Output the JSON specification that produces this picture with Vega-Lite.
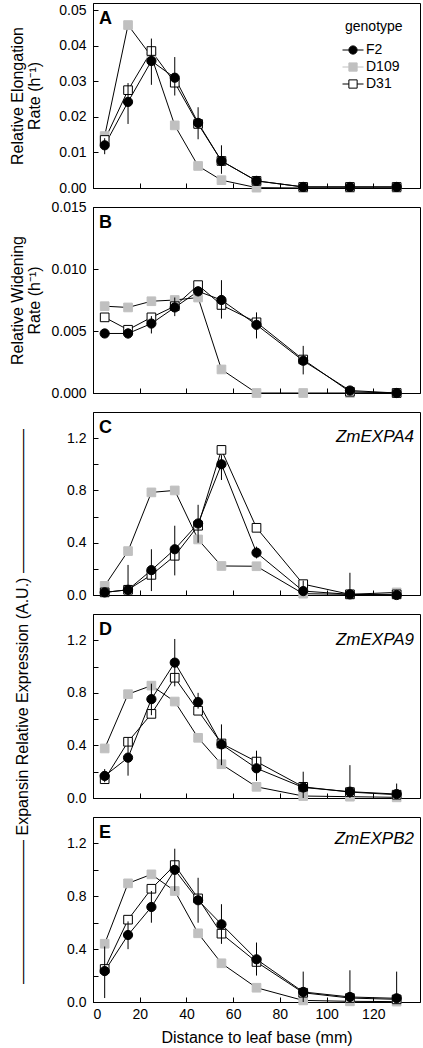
{
  "$schema": "https://vega.github.io/schema/vega-lite/v6.json",
  "padding": {"left": 9, "top": 2, "right": 4, "bottom": 2},
  "bounds": "flush",
  "spacing": 19,
  "config": {
    "font": "Liberation Sans",
    "view": {"stroke": "black", "strokeWidth": 1},
    "axis": {"domainColor": "black", "tickColor": "black", "labelColor": "black", "titleColor": "black", "labelFont": "Liberation Sans", "titleFont": "Liberation Sans", "labelFontSize": 14, "titleFontSize": 16, "titleFontWeight": "normal", "grid": false, "tickSize": -5, "labelPadding": 12, "domainWidth": 1, "tickWidth": 1, "titleLineHeight": 17, "labelOverlap": false},
    "legend": {"titleFont": "Liberation Sans", "labelFont": "Liberation Sans", "titleFontSize": 14, "labelFontSize": 14, "titleFontWeight": "normal", "titleColor": "black", "labelColor": "black"}
  },
  "resolve": {"scale": {"shape": "independent", "fill": "independent", "stroke": "independent"}, "legend": {"shape": "independent", "fill": "independent", "stroke": "independent"}},
  "datasets": {
    "d": [
      {"panel":"A","genotype":"D109","distance":5,"value":0.0146},
      {"panel":"A","genotype":"D109","distance":15,"value":0.0458},
      {"panel":"A","genotype":"D109","distance":25,"value":0.037},
      {"panel":"A","genotype":"D109","distance":35,"value":0.0176},
      {"panel":"A","genotype":"D109","distance":45,"value":0.0062},
      {"panel":"A","genotype":"D109","distance":55,"value":0.0022},
      {"panel":"A","genotype":"D109","distance":70,"value":0.0001},
      {"panel":"A","genotype":"D109","distance":90,"value":0.0},
      {"panel":"A","genotype":"D109","distance":110,"value":0.0},
      {"panel":"A","genotype":"D109","distance":130,"value":0.0},
      {"panel":"A","genotype":"D31","distance":5,"value":0.0135},
      {"panel":"A","genotype":"D31","distance":15,"value":0.0275},
      {"panel":"A","genotype":"D31","distance":25,"value":0.0385},
      {"panel":"A","genotype":"D31","distance":35,"value":0.0296},
      {"panel":"A","genotype":"D31","distance":45,"value":0.018},
      {"panel":"A","genotype":"D31","distance":55,"value":0.0076},
      {"panel":"A","genotype":"D31","distance":70,"value":0.002},
      {"panel":"A","genotype":"D31","distance":90,"value":0.0003},
      {"panel":"A","genotype":"D31","distance":110,"value":0.0003},
      {"panel":"A","genotype":"D31","distance":130,"value":0.0003},
      {"panel":"A","genotype":"F2","distance":5,"value":0.012,"lo":0.0095,"hi":0.014},
      {"panel":"A","genotype":"F2","distance":15,"value":0.0242,"lo":0.018,"hi":0.0295},
      {"panel":"A","genotype":"F2","distance":25,"value":0.0357,"lo":0.029,"hi":0.042},
      {"panel":"A","genotype":"F2","distance":35,"value":0.031,"lo":0.026,"hi":0.0368},
      {"panel":"A","genotype":"F2","distance":45,"value":0.0183,"lo":0.0137,"hi":0.0227},
      {"panel":"A","genotype":"F2","distance":55,"value":0.0076,"lo":0.004,"hi":0.012},
      {"panel":"A","genotype":"F2","distance":70,"value":0.002},
      {"panel":"A","genotype":"F2","distance":90,"value":0.0003},
      {"panel":"A","genotype":"F2","distance":110,"value":0.0003},
      {"panel":"A","genotype":"F2","distance":130,"value":0.0003},

      {"panel":"B","genotype":"D109","distance":5,"value":0.0070},
      {"panel":"B","genotype":"D109","distance":15,"value":0.0069},
      {"panel":"B","genotype":"D109","distance":25,"value":0.0074},
      {"panel":"B","genotype":"D109","distance":35,"value":0.0075},
      {"panel":"B","genotype":"D109","distance":45,"value":0.0077},
      {"panel":"B","genotype":"D109","distance":55,"value":0.0019},
      {"panel":"B","genotype":"D109","distance":70,"value":0.0},
      {"panel":"B","genotype":"D109","distance":90,"value":0.0},
      {"panel":"B","genotype":"D109","distance":110,"value":0.0},
      {"panel":"B","genotype":"D109","distance":130,"value":0.0},
      {"panel":"B","genotype":"D31","distance":5,"value":0.0061},
      {"panel":"B","genotype":"D31","distance":15,"value":0.0051},
      {"panel":"B","genotype":"D31","distance":25,"value":0.0061},
      {"panel":"B","genotype":"D31","distance":35,"value":0.0070},
      {"panel":"B","genotype":"D31","distance":45,"value":0.0087},
      {"panel":"B","genotype":"D31","distance":55,"value":0.0071},
      {"panel":"B","genotype":"D31","distance":70,"value":0.0057},
      {"panel":"B","genotype":"D31","distance":90,"value":0.0027},
      {"panel":"B","genotype":"D31","distance":110,"value":0.0001},
      {"panel":"B","genotype":"D31","distance":130,"value":0.0},
      {"panel":"B","genotype":"F2","distance":5,"value":0.0048},
      {"panel":"B","genotype":"F2","distance":15,"value":0.0048,"lo":0.0044,"hi":0.0052},
      {"panel":"B","genotype":"F2","distance":25,"value":0.0056,"lo":0.0048,"hi":0.0062},
      {"panel":"B","genotype":"F2","distance":35,"value":0.0069,"lo":0.0062,"hi":0.0077},
      {"panel":"B","genotype":"F2","distance":45,"value":0.0082,"lo":0.0078,"hi":0.0086},
      {"panel":"B","genotype":"F2","distance":55,"value":0.0075,"lo":0.006,"hi":0.0091},
      {"panel":"B","genotype":"F2","distance":70,"value":0.0055,"lo":0.0044,"hi":0.0065},
      {"panel":"B","genotype":"F2","distance":90,"value":0.0026,"lo":0.0015,"hi":0.0038},
      {"panel":"B","genotype":"F2","distance":110,"value":0.0002,"lo":0.0,"hi":0.0005},
      {"panel":"B","genotype":"F2","distance":130,"value":0.0},

      {"panel":"C","genotype":"D109","distance":5,"value":0.07},
      {"panel":"C","genotype":"D109","distance":15,"value":0.336},
      {"panel":"C","genotype":"D109","distance":25,"value":0.785},
      {"panel":"C","genotype":"D109","distance":35,"value":0.80},
      {"panel":"C","genotype":"D109","distance":45,"value":0.425},
      {"panel":"C","genotype":"D109","distance":55,"value":0.222},
      {"panel":"C","genotype":"D109","distance":70,"value":0.22},
      {"panel":"C","genotype":"D109","distance":90,"value":0.01},
      {"panel":"C","genotype":"D109","distance":110,"value":0.005},
      {"panel":"C","genotype":"D109","distance":130,"value":0.02},
      {"panel":"C","genotype":"D31","distance":5,"value":0.02},
      {"panel":"C","genotype":"D31","distance":15,"value":0.04},
      {"panel":"C","genotype":"D31","distance":25,"value":0.154},
      {"panel":"C","genotype":"D31","distance":35,"value":0.30},
      {"panel":"C","genotype":"D31","distance":45,"value":0.53},
      {"panel":"C","genotype":"D31","distance":55,"value":1.11},
      {"panel":"C","genotype":"D31","distance":70,"value":0.514},
      {"panel":"C","genotype":"D31","distance":90,"value":0.083},
      {"panel":"C","genotype":"D31","distance":110,"value":0.005},
      {"panel":"C","genotype":"D31","distance":130,"value":0.005},
      {"panel":"C","genotype":"F2","distance":5,"value":0.02,"lo":0.0,"hi":0.05},
      {"panel":"C","genotype":"F2","distance":15,"value":0.04,"lo":0.0,"hi":0.23},
      {"panel":"C","genotype":"F2","distance":25,"value":0.19,"lo":0.03,"hi":0.35},
      {"panel":"C","genotype":"F2","distance":35,"value":0.35,"lo":0.15,"hi":0.53},
      {"panel":"C","genotype":"F2","distance":45,"value":0.547,"lo":0.4,"hi":0.69},
      {"panel":"C","genotype":"F2","distance":55,"value":1.0,"lo":0.88,"hi":1.07},
      {"panel":"C","genotype":"F2","distance":70,"value":0.324,"lo":0.28,"hi":0.37},
      {"panel":"C","genotype":"F2","distance":90,"value":0.03,"lo":0.0,"hi":0.11},
      {"panel":"C","genotype":"F2","distance":110,"value":0.005,"lo":0.0,"hi":0.17},
      {"panel":"C","genotype":"F2","distance":130,"value":0.0,"lo":0.0,"hi":0.02},

      {"panel":"D","genotype":"D109","distance":5,"value":0.377},
      {"panel":"D","genotype":"D109","distance":15,"value":0.79},
      {"panel":"D","genotype":"D109","distance":25,"value":0.855},
      {"panel":"D","genotype":"D109","distance":35,"value":0.734},
      {"panel":"D","genotype":"D109","distance":45,"value":0.458},
      {"panel":"D","genotype":"D109","distance":55,"value":0.257},
      {"panel":"D","genotype":"D109","distance":70,"value":0.085},
      {"panel":"D","genotype":"D109","distance":90,"value":0.015},
      {"panel":"D","genotype":"D109","distance":110,"value":0.01},
      {"panel":"D","genotype":"D109","distance":130,"value":0.005},
      {"panel":"D","genotype":"D31","distance":5,"value":0.143},
      {"panel":"D","genotype":"D31","distance":15,"value":0.428},
      {"panel":"D","genotype":"D31","distance":25,"value":0.64},
      {"panel":"D","genotype":"D31","distance":35,"value":0.915},
      {"panel":"D","genotype":"D31","distance":45,"value":0.664},
      {"panel":"D","genotype":"D31","distance":55,"value":0.415},
      {"panel":"D","genotype":"D31","distance":70,"value":0.277},
      {"panel":"D","genotype":"D31","distance":90,"value":0.085},
      {"panel":"D","genotype":"D31","distance":110,"value":0.045},
      {"panel":"D","genotype":"D31","distance":130,"value":0.025},
      {"panel":"D","genotype":"F2","distance":5,"value":0.168,"lo":0.12,"hi":0.22},
      {"panel":"D","genotype":"F2","distance":15,"value":0.307,"lo":0.17,"hi":0.46},
      {"panel":"D","genotype":"F2","distance":25,"value":0.752,"lo":0.63,"hi":0.87},
      {"panel":"D","genotype":"F2","distance":35,"value":1.03,"lo":0.85,"hi":1.21},
      {"panel":"D","genotype":"F2","distance":45,"value":0.73,"lo":0.68,"hi":0.8},
      {"panel":"D","genotype":"F2","distance":55,"value":0.408,"lo":0.25,"hi":0.56},
      {"panel":"D","genotype":"F2","distance":70,"value":0.226,"lo":0.13,"hi":0.36},
      {"panel":"D","genotype":"F2","distance":90,"value":0.08,"lo":0.0,"hi":0.2},
      {"panel":"D","genotype":"F2","distance":110,"value":0.048,"lo":0.0,"hi":0.25},
      {"panel":"D","genotype":"F2","distance":130,"value":0.03,"lo":0.0,"hi":0.11},

      {"panel":"E","genotype":"D109","distance":5,"value":0.441},
      {"panel":"E","genotype":"D109","distance":15,"value":0.898},
      {"panel":"E","genotype":"D109","distance":25,"value":0.966},
      {"panel":"E","genotype":"D109","distance":35,"value":0.84},
      {"panel":"E","genotype":"D109","distance":45,"value":0.52},
      {"panel":"E","genotype":"D109","distance":55,"value":0.293},
      {"panel":"E","genotype":"D109","distance":70,"value":0.108},
      {"panel":"E","genotype":"D109","distance":90,"value":0.012},
      {"panel":"E","genotype":"D109","distance":110,"value":0.005},
      {"panel":"E","genotype":"D109","distance":130,"value":0.003},
      {"panel":"E","genotype":"D31","distance":5,"value":0.25},
      {"panel":"E","genotype":"D31","distance":15,"value":0.623},
      {"panel":"E","genotype":"D31","distance":25,"value":0.857},
      {"panel":"E","genotype":"D31","distance":35,"value":1.036},
      {"panel":"E","genotype":"D31","distance":45,"value":0.784},
      {"panel":"E","genotype":"D31","distance":55,"value":0.517},
      {"panel":"E","genotype":"D31","distance":70,"value":0.303},
      {"panel":"E","genotype":"D31","distance":90,"value":0.07},
      {"panel":"E","genotype":"D31","distance":110,"value":0.03},
      {"panel":"E","genotype":"D31","distance":130,"value":0.02},
      {"panel":"E","genotype":"F2","distance":5,"value":0.234,"lo":0.03,"hi":0.42},
      {"panel":"E","genotype":"F2","distance":15,"value":0.507,"lo":0.4,"hi":0.61},
      {"panel":"E","genotype":"F2","distance":25,"value":0.719,"lo":0.6,"hi":0.84},
      {"panel":"E","genotype":"F2","distance":35,"value":1.0,"lo":0.84,"hi":1.16},
      {"panel":"E","genotype":"F2","distance":45,"value":0.77,"lo":0.6,"hi":0.94},
      {"panel":"E","genotype":"F2","distance":55,"value":0.588,"lo":0.44,"hi":0.74},
      {"panel":"E","genotype":"F2","distance":70,"value":0.323,"lo":0.2,"hi":0.45},
      {"panel":"E","genotype":"F2","distance":90,"value":0.076,"lo":0.0,"hi":0.23},
      {"panel":"E","genotype":"F2","distance":110,"value":0.038,"lo":0.0,"hi":0.24},
      {"panel":"E","genotype":"F2","distance":130,"value":0.028,"lo":0.0,"hi":0.23}
    ]
  },
  "vconcat": [
    {
      "width": 327, "height": 185,
      "data": {"name": "d"},
      "transform": [{"filter": "datum.panel === 'A'"}],
      "encoding": {
        "x": {"field": "distance", "type": "quantitative", "scale": {"domain": [0, 140], "nice": false, "zero": false}, "axis": {"values": [20, 40, 60, 80, 100, 120], "labels": false, "title": null}},
        "y": {"field": "value", "type": "quantitative", "scale": {"domain": [0, 0.052], "nice": false}, "axis": {"values": [0, 0.01, 0.02, 0.03, 0.04, 0.05], "format": ".2f", "title": ["Relative Elongation", "Rate (h⁻¹)"], "titlePadding": 16}}
      },
      "layer": [
        {"mark": {"type": "line", "color": "black", "strokeWidth": 1}, "encoding": {"detail": {"field": "genotype"}}},
        {"transform": [{"filter": "datum.genotype !== 'F2'"}],
         "mark": {"type": "point", "shape": "square", "filled": true, "opacity": 1, "size": 75, "strokeWidth": 1},
         "encoding": {
           "fill": {"field": "genotype", "type": "nominal", "scale": {"domain": ["F2", "D109", "D31"], "range": ["black", "#c0c0c0", "white"]}, "legend": {"orient": "top-right", "offset": 17, "padding": 0, "symbolSize": 225, "symbolStrokeWidth": 1, "labelOffset": 5, "rowPadding": 2, "titlePadding": 8}},
           "stroke": {"field": "genotype", "type": "nominal", "scale": {"domain": ["F2", "D109", "D31"], "range": ["black", "#c0c0c0", "black"]}, "legend": {"orient": "top-right", "offset": 17, "padding": 0, "symbolSize": 225, "symbolStrokeWidth": 1, "labelOffset": 5, "rowPadding": 2, "titlePadding": 8}}
         }},
        {"transform": [{"filter": "isValid(datum.lo)"}], "mark": {"type": "rule", "color": "black", "strokeWidth": 1}, "encoding": {"y": {"field": "lo", "type": "quantitative"}, "y2": {"field": "hi"}}},
        {"transform": [{"filter": "datum.genotype === 'F2'"}],
         "mark": {"type": "point", "shape": "circle", "filled": true, "opacity": 1, "size": 85, "strokeWidth": 1},
         "encoding": {
           "fill": {"field": "genotype", "type": "nominal", "legend": {"orient": "top-right", "offset": 17, "padding": 0, "symbolSize": 225, "symbolStrokeWidth": 1, "labelOffset": 5, "rowPadding": 2, "titlePadding": 8}},
           "stroke": {"field": "genotype", "type": "nominal", "legend": {"orient": "top-right", "offset": 17, "padding": 0, "symbolSize": 225, "symbolStrokeWidth": 1, "labelOffset": 5, "rowPadding": 2, "titlePadding": 8}}
         }},
        {"transform": [{"filter": "false"}],
         "mark": {"type": "point", "filled": true, "opacity": 1, "strokeWidth": 1},
         "encoding": {
           "shape": {"field": "genotype", "type": "nominal", "scale": {"domain": ["F2", "D109", "D31"], "range": ["M-1.4,0H-0.55M0.55,0H1.4M-0.55,0A0.55,0.55,0,1,0,0.55,0A0.55,0.55,0,1,0,-0.55,0Z", "M-1.4,0H-0.55M0.55,0H1.4M-0.55,-0.55H0.55V0.55H-0.55Z", "M-1.4,0H-0.55M0.55,0H1.4M-0.55,-0.55H0.55V0.55H-0.55Z"]}, "legend": {"orient": "top-right", "offset": 17, "padding": 0, "symbolSize": 225, "symbolStrokeWidth": 1, "labelOffset": 5, "rowPadding": 2, "titlePadding": 8}},
           "fill": {"field": "genotype", "type": "nominal", "legend": {"orient": "top-right", "offset": 17, "padding": 0, "symbolSize": 225, "symbolStrokeWidth": 1, "labelOffset": 5, "rowPadding": 2, "titlePadding": 8}},
           "stroke": {"field": "genotype", "type": "nominal", "legend": {"orient": "top-right", "offset": 17, "padding": 0, "symbolSize": 225, "symbolStrokeWidth": 1, "labelOffset": 5, "rowPadding": 2, "titlePadding": 8}}
         }},
        {"transform": [{"filter": "datum.genotype === 'F2' && datum.distance === 5"}], "mark": {"type": "text", "font": "Liberation Sans", "fontSize": 18, "fontWeight": "bold", "align": "left", "baseline": "alphabetic", "dx": 6, "dy": 21, "fill": "black"}, "encoding": {"x": {"datum": 0, "type": "quantitative"}, "y": {"datum": 0.052, "type": "quantitative"}, "text": {"value": "A"}}}
      ]
    },
    {
      "width": 327, "height": 186,
      "data": {"name": "d"},
      "transform": [{"filter": "datum.panel === 'B'"}],
      "encoding": {
        "x": {"field": "distance", "type": "quantitative", "scale": {"domain": [0, 140], "nice": false, "zero": false}, "axis": {"values": [20, 40, 60, 80, 100, 120], "labels": false, "title": null}},
        "y": {"field": "value", "type": "quantitative", "scale": {"domain": [0, 0.015], "nice": false}, "axis": {"values": [0, 0.005, 0.01, 0.015], "format": ".3f", "title": ["Relative Widening", "Rate (h⁻¹)"], "titlePadding": 8}}
      },
      "layer": [
        {"mark": {"type": "line", "color": "black", "strokeWidth": 1}, "encoding": {"detail": {"field": "genotype"}}},
        {"transform": [{"filter": "datum.genotype !== 'F2'"}],
         "mark": {"type": "point", "shape": "square", "filled": true, "opacity": 1, "size": 75, "strokeWidth": 1},
         "encoding": {
           "fill": {"field": "genotype", "type": "nominal", "scale": {"domain": ["F2", "D109", "D31"], "range": ["black", "#c0c0c0", "white"]}, "legend": null},
           "stroke": {"field": "genotype", "type": "nominal", "scale": {"domain": ["F2", "D109", "D31"], "range": ["black", "#c0c0c0", "black"]}, "legend": null}
         }},
        {"transform": [{"filter": "isValid(datum.lo)"}], "mark": {"type": "rule", "color": "black", "strokeWidth": 1}, "encoding": {"y": {"field": "lo", "type": "quantitative"}, "y2": {"field": "hi"}}},
        {"transform": [{"filter": "datum.genotype === 'F2'"}],
         "mark": {"type": "point", "shape": "circle", "filled": true, "opacity": 1, "size": 85, "strokeWidth": 1, "fill": "black", "stroke": "black"},
         "encoding": {}},
        {"transform": [{"filter": "datum.genotype === 'F2' && datum.distance === 5"}], "mark": {"type": "text", "font": "Liberation Sans", "fontSize": 18, "fontWeight": "bold", "align": "left", "baseline": "alphabetic", "dx": 6, "dy": 21, "fill": "black"}, "encoding": {"x": {"datum": 0, "type": "quantitative"}, "y": {"datum": 0.015, "type": "quantitative"}, "text": {"value": "B"}}}
      ]
    },
    {
      "width": 327, "height": 183,
      "data": {"name": "d"},
      "transform": [{"filter": "datum.panel === 'C'"}],
      "encoding": {
        "x": {"field": "distance", "type": "quantitative", "scale": {"domain": [0, 140], "nice": false, "zero": false}, "axis": {"values": [20, 40, 60, 80, 100, 120], "labels": false, "title": null}},
        "y": {"field": "value", "type": "quantitative", "scale": {"domain": [0, 1.4], "nice": false}, "axis": {"values": [0, 0.2, 0.4, 0.6, 0.8, 1.0, 1.2], "labelExpr": "round(datum.value * 10) % 4 === 0 ? format(datum.value, '.1f') : ''", "title": null}}
      },
      "layer": [
        {"mark": {"type": "line", "color": "black", "strokeWidth": 1}, "encoding": {"detail": {"field": "genotype"}}},
        {"transform": [{"filter": "datum.genotype !== 'F2'"}],
         "mark": {"type": "point", "shape": "square", "filled": true, "opacity": 1, "size": 75, "strokeWidth": 1},
         "encoding": {
           "fill": {"field": "genotype", "type": "nominal", "scale": {"domain": ["F2", "D109", "D31"], "range": ["black", "#c0c0c0", "white"]}, "legend": null},
           "stroke": {"field": "genotype", "type": "nominal", "scale": {"domain": ["F2", "D109", "D31"], "range": ["black", "#c0c0c0", "black"]}, "legend": null}
         }},
        {"transform": [{"filter": "isValid(datum.lo)"}], "mark": {"type": "rule", "color": "black", "strokeWidth": 1}, "encoding": {"y": {"field": "lo", "type": "quantitative"}, "y2": {"field": "hi"}}},
        {"transform": [{"filter": "datum.genotype === 'F2'"}],
         "mark": {"type": "point", "shape": "circle", "filled": true, "opacity": 1, "size": 85, "strokeWidth": 1, "fill": "black", "stroke": "black"},
         "encoding": {}},
        {"transform": [{"filter": "datum.genotype === 'F2' && datum.distance === 5"}], "mark": {"type": "text", "font": "Liberation Sans", "fontSize": 18, "fontWeight": "bold", "align": "left", "baseline": "alphabetic", "dx": 6, "dy": 21, "fill": "black"}, "encoding": {"x": {"datum": 0, "type": "quantitative"}, "y": {"datum": 1.4, "type": "quantitative"}, "text": {"value": "C"}}},
        {"transform": [{"filter": "datum.genotype === 'F2' && datum.distance === 5"}], "mark": {"type": "text", "font": "Liberation Sans", "fontSize": 17, "fontStyle": "italic", "align": "right", "baseline": "alphabetic", "dx": -6, "dy": 30, "fill": "black"}, "encoding": {"x": {"datum": 140, "type": "quantitative"}, "y": {"datum": 1.4, "type": "quantitative"}, "text": {"value": "ZmEXPA4"}}}
      ]
    },
    {
      "width": 327, "height": 184,
      "data": {"name": "d"},
      "transform": [{"filter": "datum.panel === 'D'"}],
      "encoding": {
        "x": {"field": "distance", "type": "quantitative", "scale": {"domain": [0, 140], "nice": false, "zero": false}, "axis": {"values": [20, 40, 60, 80, 100, 120], "labels": false, "title": null}},
        "y": {"field": "value", "type": "quantitative", "scale": {"domain": [0, 1.4], "nice": false}, "axis": {"values": [0, 0.2, 0.4, 0.6, 0.8, 1.0, 1.2], "labelExpr": "round(datum.value * 10) % 4 === 0 ? format(datum.value, '.1f') : ''", "title": "————————— Expansin Relative Expression (A.U.) —————————", "titlePadding": 36}}
      },
      "layer": [
        {"mark": {"type": "line", "color": "black", "strokeWidth": 1}, "encoding": {"detail": {"field": "genotype"}}},
        {"transform": [{"filter": "datum.genotype !== 'F2'"}],
         "mark": {"type": "point", "shape": "square", "filled": true, "opacity": 1, "size": 75, "strokeWidth": 1},
         "encoding": {
           "fill": {"field": "genotype", "type": "nominal", "scale": {"domain": ["F2", "D109", "D31"], "range": ["black", "#c0c0c0", "white"]}, "legend": null},
           "stroke": {"field": "genotype", "type": "nominal", "scale": {"domain": ["F2", "D109", "D31"], "range": ["black", "#c0c0c0", "black"]}, "legend": null}
         }},
        {"transform": [{"filter": "isValid(datum.lo)"}], "mark": {"type": "rule", "color": "black", "strokeWidth": 1}, "encoding": {"y": {"field": "lo", "type": "quantitative"}, "y2": {"field": "hi"}}},
        {"transform": [{"filter": "datum.genotype === 'F2'"}],
         "mark": {"type": "point", "shape": "circle", "filled": true, "opacity": 1, "size": 85, "strokeWidth": 1, "fill": "black", "stroke": "black"},
         "encoding": {}},
        {"transform": [{"filter": "datum.genotype === 'F2' && datum.distance === 5"}], "mark": {"type": "text", "font": "Liberation Sans", "fontSize": 18, "fontWeight": "bold", "align": "left", "baseline": "alphabetic", "dx": 6, "dy": 21, "fill": "black"}, "encoding": {"x": {"datum": 0, "type": "quantitative"}, "y": {"datum": 1.4, "type": "quantitative"}, "text": {"value": "D"}}},
        {"transform": [{"filter": "datum.genotype === 'F2' && datum.distance === 5"}], "mark": {"type": "text", "font": "Liberation Sans", "fontSize": 17, "fontStyle": "italic", "align": "right", "baseline": "alphabetic", "dx": -6, "dy": 31, "fill": "black"}, "encoding": {"x": {"datum": 140, "type": "quantitative"}, "y": {"datum": 1.4, "type": "quantitative"}, "text": {"value": "ZmEXPA9"}}}
      ]
    },
    {
      "width": 327, "height": 185,
      "data": {"name": "d"},
      "transform": [{"filter": "datum.panel === 'E'"}],
      "encoding": {
        "x": {"field": "distance", "type": "quantitative", "scale": {"domain": [0, 140], "nice": false, "zero": false}, "axis": {"values": [0, 20, 40, 60, 80, 100, 120], "format": "d", "title": "Distance to leaf base (mm)", "labelPadding": 10, "titlePadding": 8}},
        "y": {"field": "value", "type": "quantitative", "scale": {"domain": [0, 1.4], "nice": false}, "axis": {"values": [0, 0.2, 0.4, 0.6, 0.8, 1.0, 1.2], "labelExpr": "round(datum.value * 10) % 4 === 0 ? format(datum.value, '.1f') : ''", "title": null}}
      },
      "layer": [
        {"mark": {"type": "line", "color": "black", "strokeWidth": 1}, "encoding": {"detail": {"field": "genotype"}}},
        {"transform": [{"filter": "datum.genotype !== 'F2'"}],
         "mark": {"type": "point", "shape": "square", "filled": true, "opacity": 1, "size": 75, "strokeWidth": 1},
         "encoding": {
           "fill": {"field": "genotype", "type": "nominal", "scale": {"domain": ["F2", "D109", "D31"], "range": ["black", "#c0c0c0", "white"]}, "legend": null},
           "stroke": {"field": "genotype", "type": "nominal", "scale": {"domain": ["F2", "D109", "D31"], "range": ["black", "#c0c0c0", "black"]}, "legend": null}
         }},
        {"transform": [{"filter": "isValid(datum.lo)"}], "mark": {"type": "rule", "color": "black", "strokeWidth": 1}, "encoding": {"y": {"field": "lo", "type": "quantitative"}, "y2": {"field": "hi"}}},
        {"transform": [{"filter": "datum.genotype === 'F2'"}],
         "mark": {"type": "point", "shape": "circle", "filled": true, "opacity": 1, "size": 85, "strokeWidth": 1, "fill": "black", "stroke": "black"},
         "encoding": {}},
        {"transform": [{"filter": "datum.genotype === 'F2' && datum.distance === 5"}], "mark": {"type": "text", "font": "Liberation Sans", "fontSize": 18, "fontWeight": "bold", "align": "left", "baseline": "alphabetic", "dx": 6, "dy": 21, "fill": "black"}, "encoding": {"x": {"datum": 0, "type": "quantitative"}, "y": {"datum": 1.4, "type": "quantitative"}, "text": {"value": "E"}}},
        {"transform": [{"filter": "datum.genotype === 'F2' && datum.distance === 5"}], "mark": {"type": "text", "font": "Liberation Sans", "fontSize": 17, "fontStyle": "italic", "align": "right", "baseline": "alphabetic", "dx": -6, "dy": 27, "fill": "black"}, "encoding": {"x": {"datum": 140, "type": "quantitative"}, "y": {"datum": 1.4, "type": "quantitative"}, "text": {"value": "ZmEXPB2"}}}
      ]
    }
  ]
}
